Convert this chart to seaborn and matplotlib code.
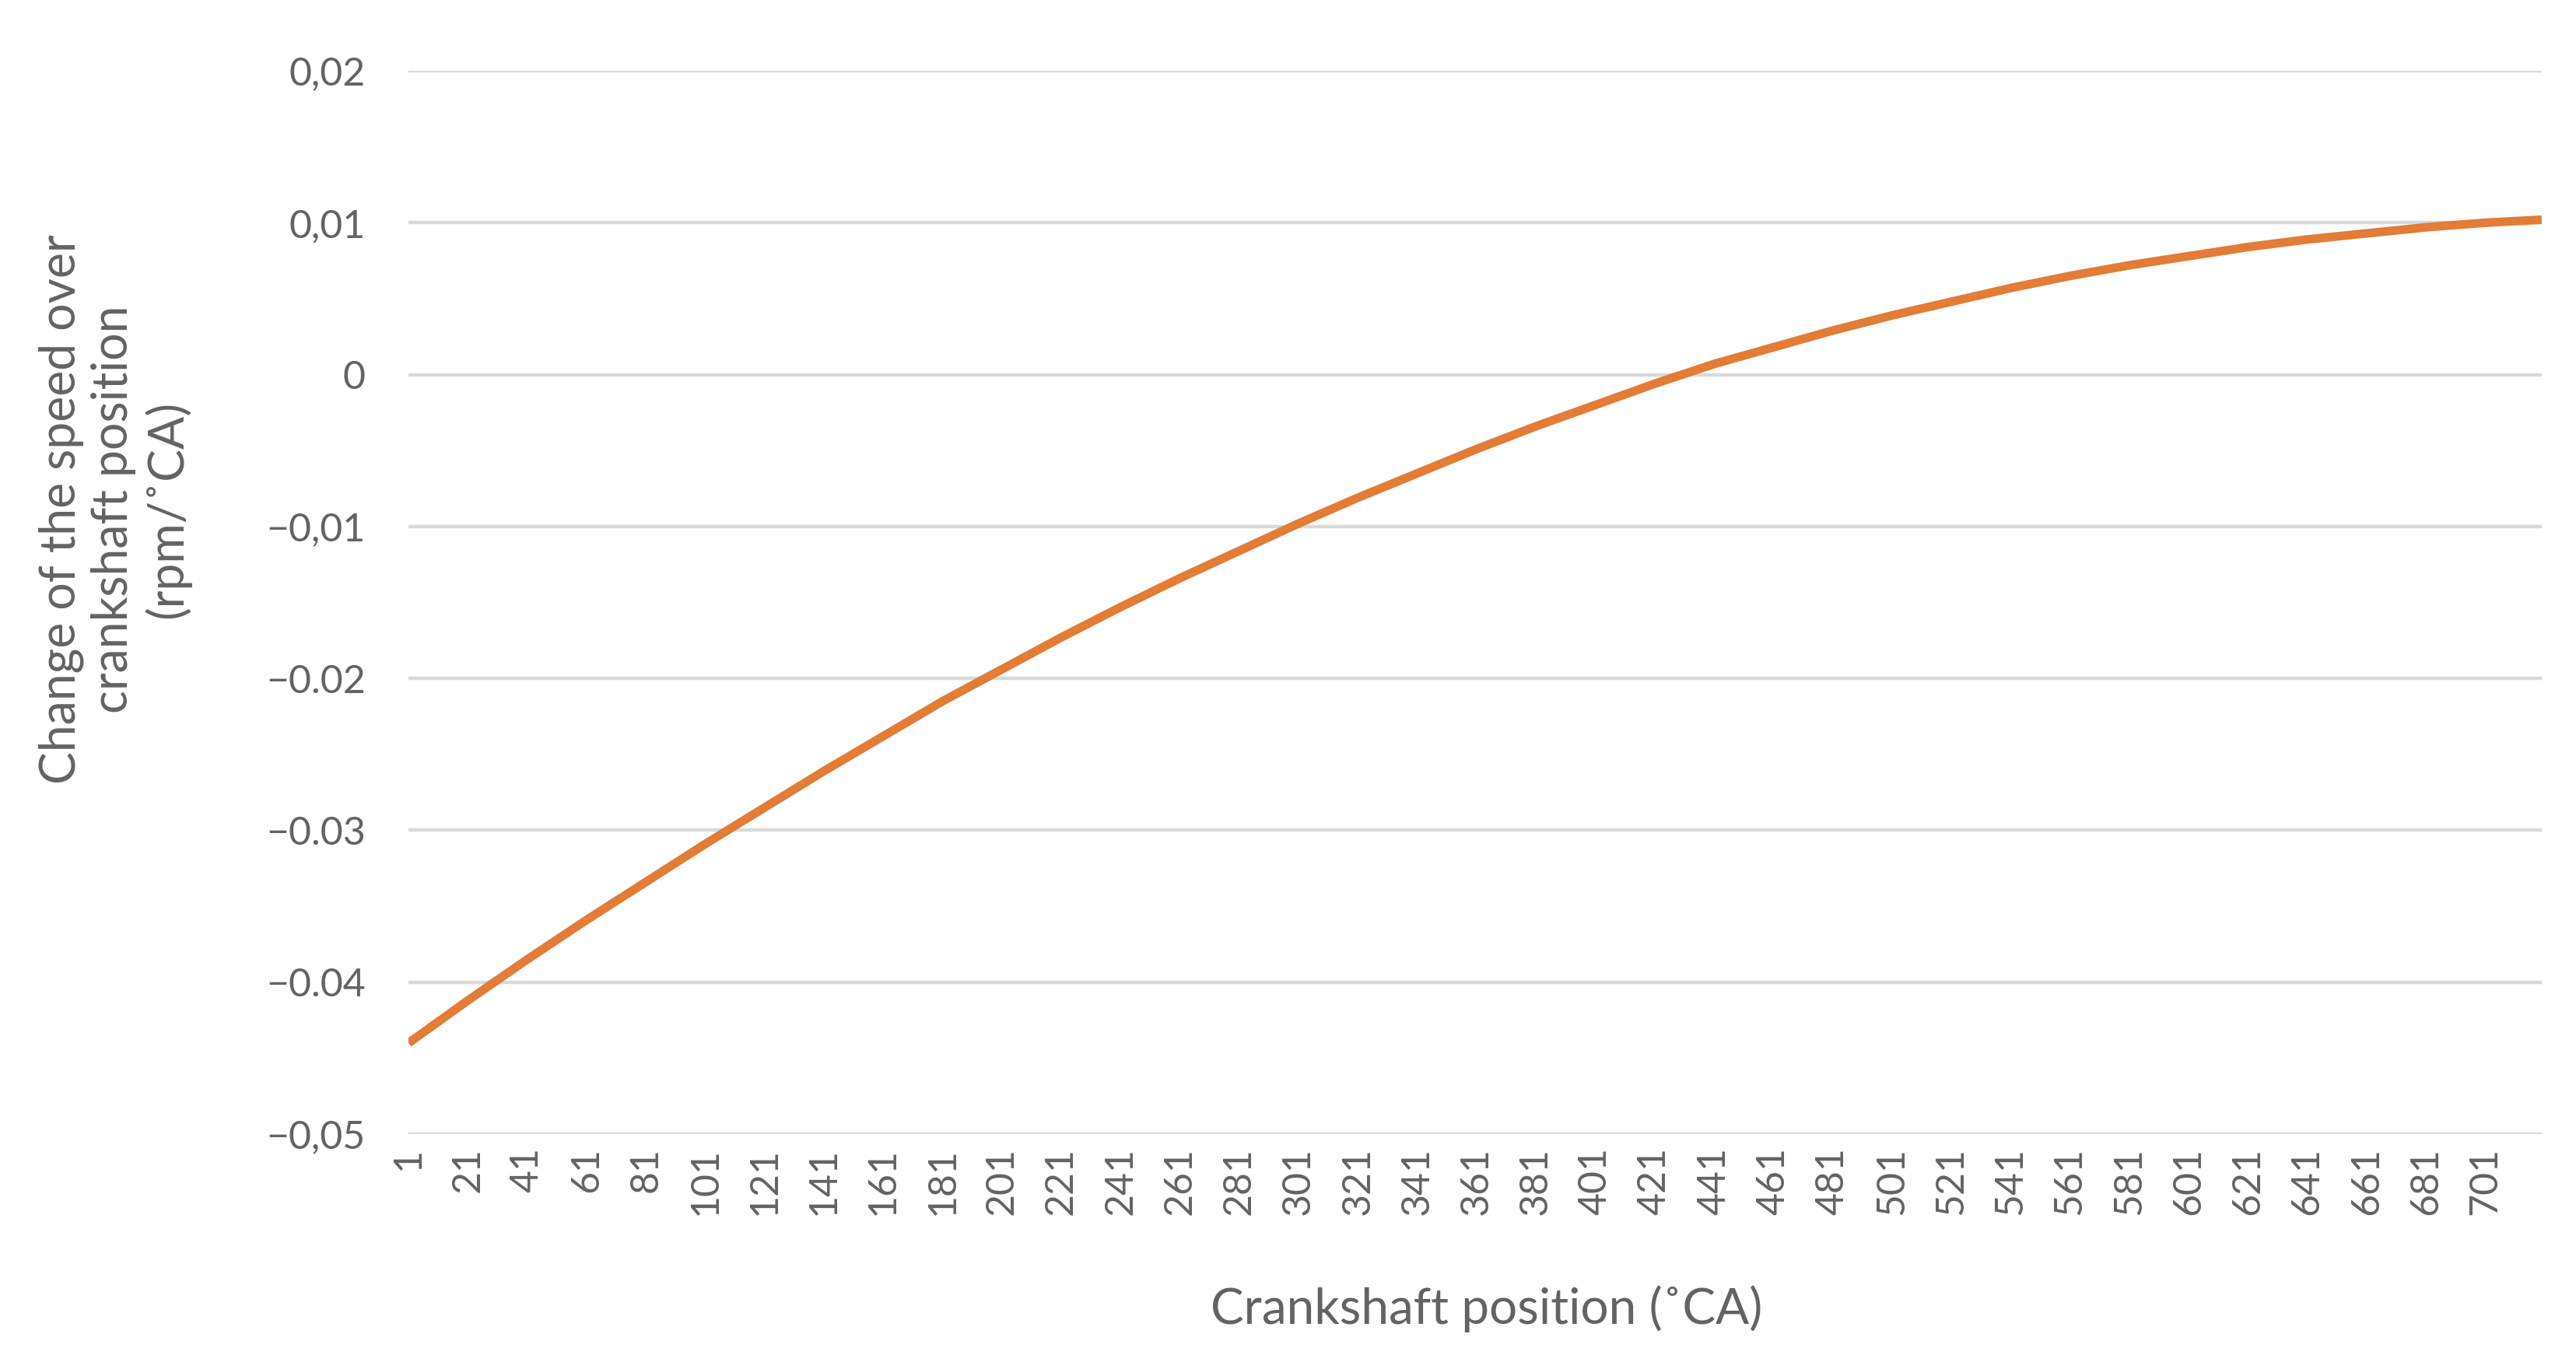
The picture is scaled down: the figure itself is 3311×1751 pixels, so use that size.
import pandas as pd
import matplotlib.pyplot as plt
import seaborn as sns

# Crankshaft position (categories, every 20 deg + last point)
positions = [1, 21, 41, 61, 81, 101, 121, 141, 161, 181, 201, 221, 241, 261,
             281, 301, 321, 341, 361, 381, 401, 421, 441, 461, 481, 501, 521,
             541, 561, 581, 601, 621, 641, 661, 681, 701, 720]
# Change of speed over crankshaft position (rpm/˚CA)
speed_change = [-0.0440, -0.0412, -0.0385, -0.0359, -0.0334, -0.0309, -0.0285,
                -0.0261, -0.0238, -0.0215, -0.0194, -0.0173, -0.0153, -0.0134,
                -0.0116, -0.0098, -0.0081, -0.0065, -0.0049, -0.0034, -0.0020,
                -0.0006, 0.0007, 0.0018, 0.0029, 0.0039, 0.0048, 0.0057,
                0.0065, 0.0072, 0.0078, 0.0084, 0.0089, 0.0093, 0.0097,
                0.0100, 0.0102]

xtick_pos = list(range(1, 702, 20))
ytick_vals = [-0.05, -0.04, -0.03, -0.02, -0.01, 0, 0.01, 0.02]
ytick_labels = ['\u22120,05', '\u22120.04', '\u22120.03', '\u22120.02',
                '\u22120,01', '0', '0,01', '0,02']

LINE_COLOR = '#E27C36'
GRID_COLOR = '#D9D9D9'
TEXT_COLOR = '#636363'

sns.set_theme(style='whitegrid')
plt.rcParams['font.family'] = ['Lato', 'DejaVu Sans']

df = pd.DataFrame({'pos': positions, 'val': speed_change})

fig = plt.figure(figsize=(16.555, 8.755), dpi=200)
ax = fig.add_axes([0.1586, 0.1673, 0.8281, 0.7807])

sns.lineplot(data=df, x='pos', y='val', ax=ax, color=LINE_COLOR,
             linewidth=4.0, solid_capstyle='butt', zorder=3)

ax.set_xlim(1, 720)
ax.set_ylim(-0.05, 0.02)
ax.set_xticks(xtick_pos)
ax.set_xticklabels([str(p) for p in xtick_pos], rotation=90,
                   ha='center', va='top')
ax.set_yticks(ytick_vals)
ax.set_yticklabels(ytick_labels)

ax.tick_params(axis='x', labelsize=18, colors=TEXT_COLOR, pad=6, length=0)
ax.tick_params(axis='y', labelsize=18, colors=TEXT_COLOR, pad=20, length=0)

ax.grid(axis='x', visible=False)
ax.grid(axis='y', color=GRID_COLOR, linewidth=1.6)
for s in ax.spines.values():
    s.set_visible(False)
ax.set_facecolor('white')

ax.set_xlabel('')
ax.set_ylabel('')
fig.text(0.5771, 0.039, 'Crankshaft position (\u02daCA)', ha='center',
         va='center', fontsize=23, color=TEXT_COLOR)
fig.text(0.0445, 0.626,
         'Change of the speed over\ncrankshaft position\n(rpm/\u02daCA)',
         ha='center', va='center', rotation=90, multialignment='center',
         fontsize=22.5, color=TEXT_COLOR, linespacing=1.2)

fig.savefig('out.png', dpi=200, facecolor='white')
